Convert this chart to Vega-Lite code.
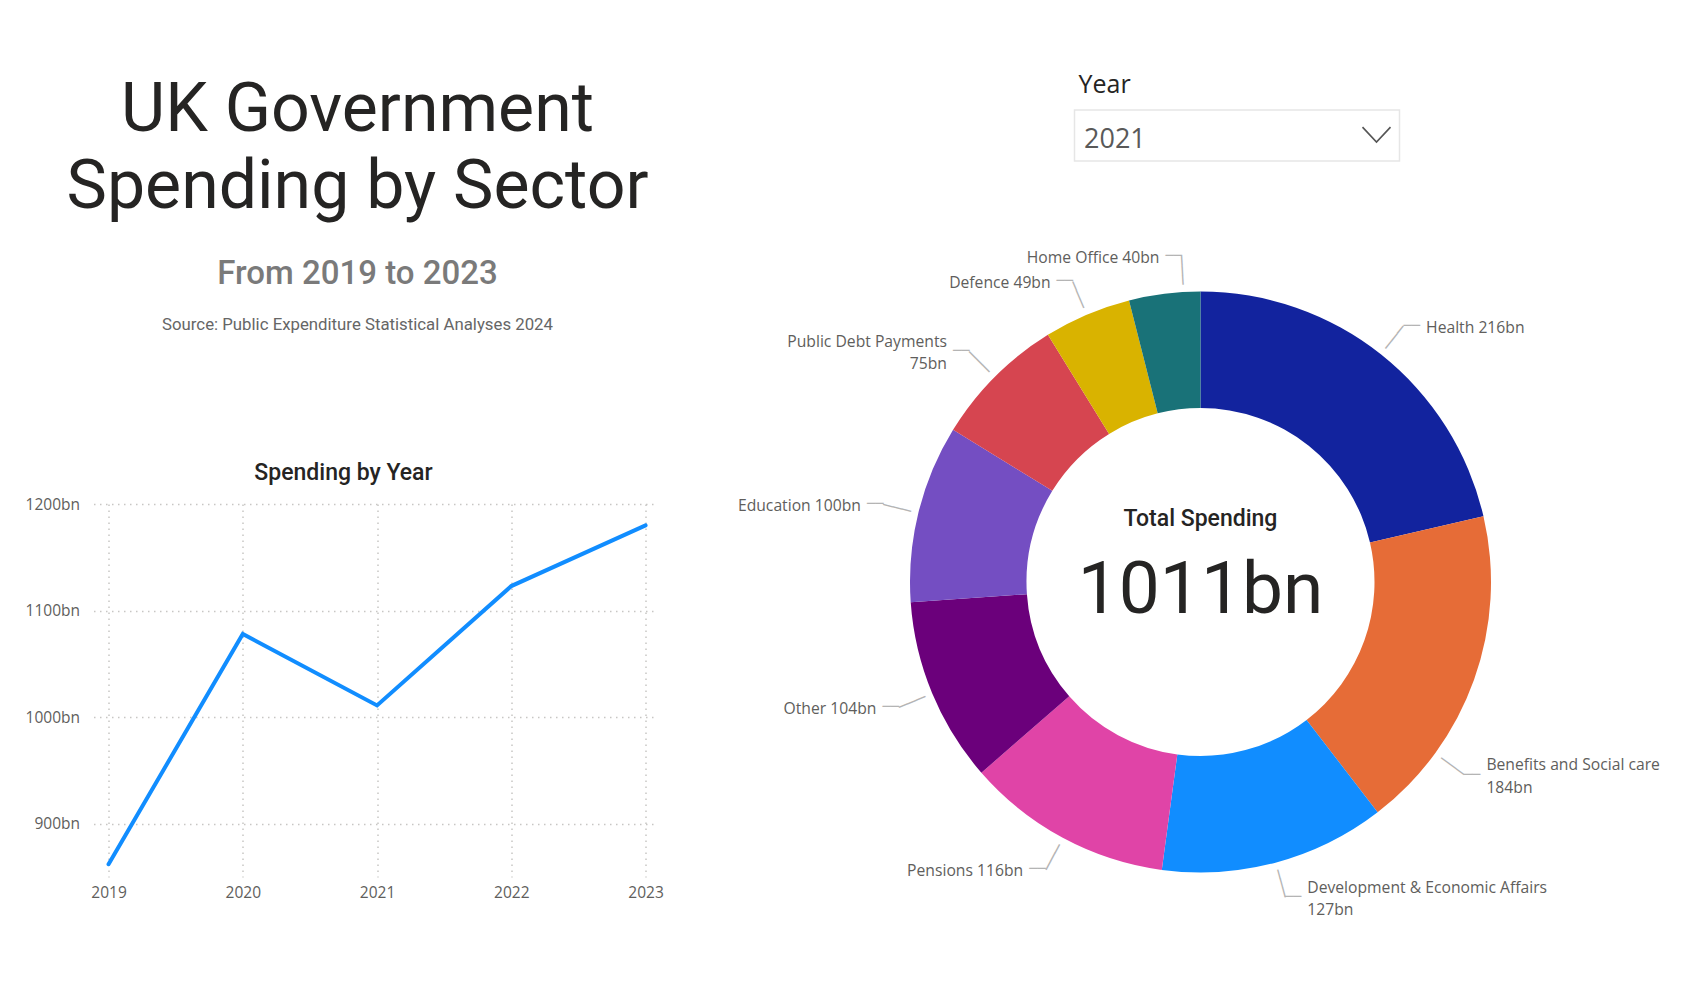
{
  "$schema": "https://vega.github.io/schema/vega-lite/v6.json",
  "background": "white",
  "padding": {"left": 24.5, "top": 72, "right": 5, "bottom": 5},
  "columns": 2,
  "bounds": "flush",
  "spacing": {"row": 94, "column": 419},
  "config": {
    "view": {"stroke": null},
    "font": "Open Sans",
    "axis": {"labelFont": "Open Sans", "labelColor": "#605E5C", "labelFontSize": 15.5, "domain": false, "ticks": false, "tickSize": 0, "title": null}
  },
  "datasets": {
    "sectors": [
      {"sector": "Health", "value": 216, "label": "Health 216bn"},
      {"sector": "Benefits and Social care", "value": 184, "label": "Benefits and Social care\n184bn"},
      {"sector": "Development & Economic Affairs", "value": 127, "label": "Development & Economic Affairs\n127bn"},
      {"sector": "Pensions", "value": 116, "label": "Pensions 116bn"},
      {"sector": "Other", "value": 104, "label": "Other 104bn"},
      {"sector": "Education", "value": 100, "label": "Education 100bn"},
      {"sector": "Public Debt Payments", "value": 75, "label": "Public Debt Payments\n75bn"},
      {"sector": "Defence", "value": 49, "label": "Defence 49bn"},
      {"sector": "Home Office", "value": 40, "label": "Home Office 40bn"}
    ],
    "yearly": [
      {"year": 2019, "spending": 862},
      {"year": 2020, "spending": 1078},
      {"year": 2021, "spending": 1011},
      {"year": 2022, "spending": 1123},
      {"year": 2023, "spending": 1180}
    ],
    "selected": [{"year": "2021"}],
    "note": [{"source": "Source: Public Expenditure Statistical Analyses 2024"}]
  },
  "concat": [
    {
      "width": 528,
      "height": 300,
      "data": {"name": "note"},
      "title": {
        "text": ["UK Government", "Spending by Sector"],
        "subtitle": "From 2019 to 2023",
        "anchor": "middle",
        "font": "Roboto", "fontSize": 68, "fontWeight": "normal", "color": "#252423", "lineHeight": 77,
        "subtitleFont": "Roboto", "subtitleFontSize": 33, "subtitleFontWeight": 500, "subtitleColor": "#7a7a7a", "subtitlePadding": 36.5,
        "offset": -181.3
      },
      "mark": {"type": "text", "font": "Roboto", "fontSize": 16.8, "color": "#666666", "baseline": "alphabetic", "dy": 70},
      "encoding": {"text": {"field": "source", "type": "nominal"}}
    },
    {
      "width": 325,
      "height": 51,
      "view": {"stroke": "#e6e6e6", "strokeWidth": 1.5},
      "data": {"name": "selected"},
      "title": {"text": "Year", "anchor": "start", "font": "Open Sans", "fontSize": 25, "fontWeight": "normal", "color": "#252423", "offset": 12, "dx": 4},
      "mark": {"type": "point", "shape": "M-2.643,-0.6L-1.643,0.47L-0.643,-0.6", "size": 784, "filled": false, "stroke": "#555555", "strokeWidth": 1.6, "opacity": 1},
      "encoding": {
        "y": {"field": "year", "type": "nominal", "axis": {"labelAlign": "left", "labelPadding": -9, "labelOffset": 4, "labelFontSize": 27, "labelColor": "#595959"}},
        "x": {"value": "width"}
      }
    },
    {
      "width": 562,
      "height": 373,
      "data": {"name": "yearly"},
      "title": {"text": "Spending by Year", "font": "Roboto", "fontSize": 23, "fontWeight": 500, "color": "#252423", "anchor": "middle", "offset": 12.5, "dx": -31},
      "mark": {"type": "line", "color": "#118DFF", "strokeWidth": 4, "strokeCap": "round", "strokeJoin": "miter"},
      "encoding": {
        "x": {
          "field": "year", "type": "quantitative",
          "scale": {"domain": [2018.888, 2023.074], "nice": false, "zero": false},
          "axis": {"values": [2019, 2020, 2021, 2022, 2023], "format": "d", "labelPadding": 8.5, "labelFlush": false, "grid": true, "gridDash": [1.5, 4.5], "gridColor": "#c8c6c4", "gridWidth": 1.5}
        },
        "y": {
          "field": "spending", "type": "quantitative",
          "scale": {"domain": [850, 1200], "nice": false, "zero": false},
          "axis": {"values": [900, 1000, 1100, 1200], "labelExpr": "datum.value + 'bn'", "labelPadding": 14, "grid": true, "gridDash": [1.5, 4.5], "gridColor": "#c8c6c4", "gridWidth": 1.5}
        }
      }
    },
    {
      "width": 252,
      "height": 156,
      "data": {"name": "sectors"},
      "layer": [
        {
          "mark": {"type": "arc", "innerRadius": 174, "outerRadius": 290.5},
          "encoding": {
            "theta": {"field": "value", "type": "quantitative", "stack": true},
            "order": {"field": "value", "sort": "descending"},
            "color": {
              "field": "sector", "type": "nominal", "legend": null,
              "scale": {
                "domain": ["Health", "Benefits and Social care", "Development & Economic Affairs", "Pensions", "Other", "Education", "Public Debt Payments", "Defence", "Home Office"],
                "range": ["#12239E", "#E66C37", "#118DFF", "#E044A7", "#6B007B", "#744EC2", "#D64550", "#D9B300", "#197278"]
              }
            }
          }
        },
        {
          "mark": {"type": "text", "radius": 326.5, "align": "left", "baseline": "middle", "dx": 22.5, "dy": 1.5, "font": "Open Sans", "fontSize": 15.7, "color": "#605E5C"},
          "encoding": {
            "theta": {"field": "value", "type": "quantitative", "stack": true},
            "order": {"field": "value", "sort": "descending"},
            "text": {"condition": {"test": "datum.sector === 'Health'", "field": "label", "type": "nominal"}, "value": ""}
          }
        },
        {
          "mark": {"type": "text", "radius": 326.5, "align": "left", "baseline": "middle", "dx": 22.5, "dy": -9.5, "font": "Open Sans", "fontSize": 15.7, "color": "#605E5C", "lineBreak": "\n", "lineHeight": 22.5},
          "encoding": {
            "theta": {"field": "value", "type": "quantitative", "stack": true},
            "order": {"field": "value", "sort": "descending"},
            "text": {"condition": {"test": "datum.sector === 'Development & Economic Affairs'", "field": "label", "type": "nominal"}, "value": ""}
          }
        },
        {
          "mark": {"type": "text", "radius": 326.5, "thetaOffset": 0.2889, "align": "left", "baseline": "middle", "dx": 22.5, "dy": -9.5, "font": "Open Sans", "fontSize": 15.7, "color": "#605E5C", "lineBreak": "\n", "lineHeight": 22.5},
          "encoding": {
            "theta": {"field": "value", "type": "quantitative", "stack": true},
            "order": {"field": "value", "sort": "descending"},
            "text": {"condition": {"test": "datum.sector === 'Benefits and Social care'", "field": "label", "type": "nominal"}, "value": ""}
          }
        },
        {
          "mark": {"type": "text", "radius": 326.5, "align": "right", "baseline": "middle", "dx": -22.5, "dy": 1.5, "font": "Open Sans", "fontSize": 15.7, "color": "#605E5C"},
          "encoding": {
            "theta": {"field": "value", "type": "quantitative", "stack": true},
            "order": {"field": "value", "sort": "descending"},
            "text": {"condition": {"test": "indexof(['Pensions','Other','Education','Defence'], datum.sector) >= 0", "field": "label", "type": "nominal"}, "value": ""}
          }
        },
        {
          "mark": {"type": "text", "radius": 326.5, "align": "right", "baseline": "middle", "dx": -22.5, "dy": -9.5, "font": "Open Sans", "fontSize": 15.7, "color": "#605E5C", "lineBreak": "\n", "lineHeight": 22.5},
          "encoding": {
            "theta": {"field": "value", "type": "quantitative", "stack": true},
            "order": {"field": "value", "sort": "descending"},
            "text": {"condition": {"test": "datum.sector === 'Public Debt Payments'", "field": "label", "type": "nominal"}, "value": ""}
          }
        },
        {
          "mark": {"type": "text", "radius": 326.5, "thetaOffset": 0.0675, "align": "right", "baseline": "middle", "dx": -22.5, "dy": 1.5, "font": "Open Sans", "fontSize": 15.7, "color": "#605E5C"},
          "encoding": {
            "theta": {"field": "value", "type": "quantitative", "stack": true},
            "order": {"field": "value", "sort": "descending"},
            "text": {"condition": {"test": "datum.sector === 'Home Office'", "field": "label", "type": "nominal"}, "value": ""}
          }
        },
        {
          "mark": {"type": "text", "radius": 326.5, "align": "left", "baseline": "middle", "font": "DejaVu Sans Mono", "fontSize": 13.7, "color": "#b4b4b4"},
          "encoding": {
            "theta": {"field": "value", "type": "quantitative", "stack": true},
            "order": {"field": "value", "sort": "descending"},
            "text": {"condition": {"test": "indexof(['Health','Development & Economic Affairs'], datum.sector) >= 0", "value": "──"}, "value": ""}
          }
        },
        {
          "mark": {"type": "text", "radius": 326.5, "align": "right", "baseline": "middle", "font": "DejaVu Sans Mono", "fontSize": 13.7, "color": "#b4b4b4"},
          "encoding": {
            "theta": {"field": "value", "type": "quantitative", "stack": true},
            "order": {"field": "value", "sort": "descending"},
            "text": {"condition": {"test": "indexof(['Pensions','Other','Education','Public Debt Payments','Defence'], datum.sector) >= 0", "value": "──"}, "value": ""}
          }
        },
        {
          "mark": {"type": "text", "radius": 326.5, "thetaOffset": 0.2889, "align": "left", "baseline": "middle", "font": "DejaVu Sans Mono", "fontSize": 13.7, "color": "#b4b4b4"},
          "encoding": {
            "theta": {"field": "value", "type": "quantitative", "stack": true},
            "order": {"field": "value", "sort": "descending"},
            "text": {"condition": {"test": "datum.sector === 'Benefits and Social care'", "value": "──"}, "value": ""}
          }
        },
        {
          "mark": {"type": "text", "radius": 326.5, "thetaOffset": 0.0675, "align": "right", "baseline": "middle", "font": "DejaVu Sans Mono", "fontSize": 13.7, "color": "#b4b4b4"},
          "encoding": {
            "theta": {"field": "value", "type": "quantitative", "stack": true},
            "order": {"field": "value", "sort": "descending"},
            "text": {"condition": {"test": "datum.sector === 'Home Office'", "value": "──"}, "value": ""}
          }
        },
        {
          "mark": {"type": "text", "radius": 312.25, "align": "center", "baseline": "middle", "font": "DejaVu Sans Mono", "fontSize": 15.8, "color": "#b4b4b4"},
          "encoding": {
            "theta": {"field": "value", "type": "quantitative", "stack": true},
            "order": {"field": "value", "sort": "descending"},
            "text": {"condition": {"test": "datum.sector !== 'Benefits and Social care' && datum.sector !== 'Home Office'", "value": "───"}, "value": ""},
            "angle": {
              "condition": [
                {"test": "datum.sector === 'Health'", "value": -51.54},
                {"test": "datum.sector === 'Development & Economic Affairs'", "value": 75.04},
                {"test": "datum.sector === 'Pensions'", "value": 118.31},
                {"test": "datum.sector === 'Other'", "value": 157.48},
                {"test": "datum.sector === 'Education'", "value": 193.8},
                {"test": "datum.sector === 'Public Debt Payments'", "value": 224.96},
                {"test": "datum.sector === 'Defence'", "value": 247.03}
              ],
              "value": 0
            }
          }
        },
        {
          "mark": {"type": "text", "radius": 312.25, "thetaOffset": 0.2889, "angle": 36.24, "align": "center", "baseline": "middle", "font": "DejaVu Sans Mono", "fontSize": 15.8, "color": "#b4b4b4"},
          "encoding": {
            "theta": {"field": "value", "type": "quantitative", "stack": true},
            "order": {"field": "value", "sort": "descending"},
            "text": {"condition": {"test": "datum.sector === 'Benefits and Social care'", "value": "───"}, "value": ""}
          }
        },
        {
          "mark": {"type": "text", "radius": 312.25, "thetaOffset": 0.0675, "angle": 266.75, "align": "center", "baseline": "middle", "font": "DejaVu Sans Mono", "fontSize": 15.8, "color": "#b4b4b4"},
          "encoding": {
            "theta": {"field": "value", "type": "quantitative", "stack": true},
            "order": {"field": "value", "sort": "descending"},
            "text": {"condition": {"test": "datum.sector === 'Home Office'", "value": "───"}, "value": ""}
          }
        },
        {
          "transform": [{"aggregate": [{"op": "sum", "field": "value", "as": "total"}]}],
          "mark": {"type": "text", "font": "Roboto", "fontSize": 23, "fontWeight": 500, "color": "#252423", "baseline": "alphabetic", "dy": -56},
          "encoding": {"text": {"value": "Total Spending"}}
        },
        {
          "transform": [{"aggregate": [{"op": "sum", "field": "value", "as": "total"}]}],
          "mark": {"type": "text", "font": "Roboto", "fontSize": 73, "color": "#252423", "baseline": "alphabetic", "dy": 31},
          "encoding": {"text": {"value": "1011bn"}}
        }
      ]
    }
  ]
}
